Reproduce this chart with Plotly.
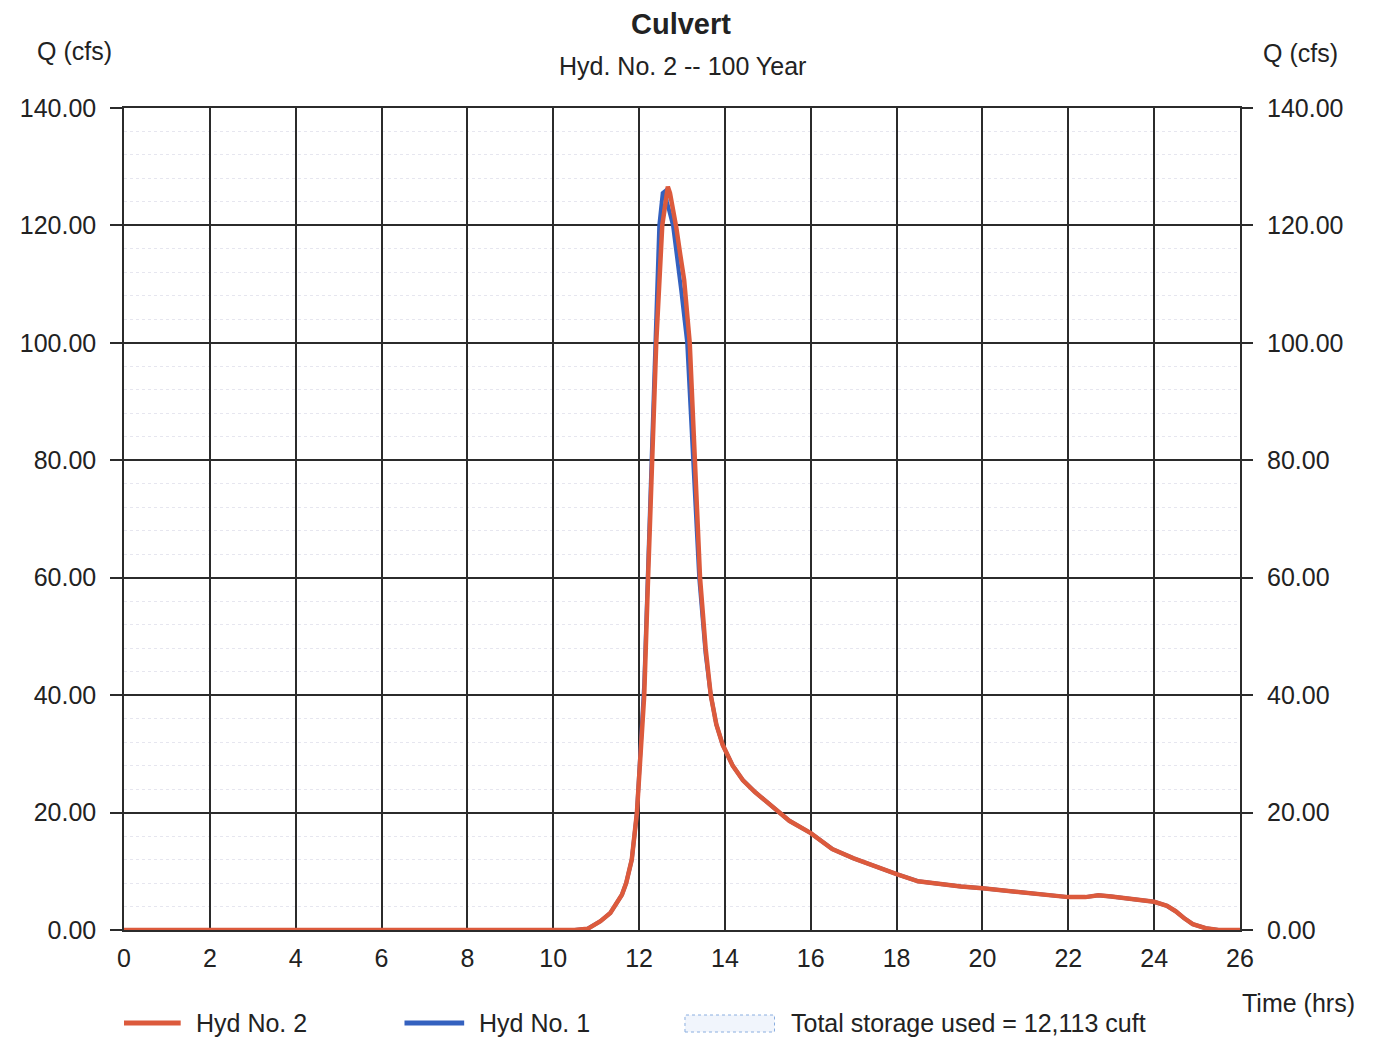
import plotly.graph_objects as go

# ---- data ----
t_hyd2 = [0, 10.5, 10.8, 10.95, 11.1, 11.33, 11.48, 11.6, 11.7, 11.83, 11.95, 12.03, 12.12,
          12.21, 12.31, 12.40, 12.54, 12.62, 12.67, 12.72, 12.80, 12.87, 12.96, 13.05, 13.18,
          13.30, 13.42, 13.55, 13.67, 13.8, 13.95, 14.18, 14.42, 14.7, 15.0, 15.5, 16.0, 16.5,
          17.0, 17.5, 18.0, 18.5, 19.0, 19.5, 20.0, 20.5, 21.0, 21.5, 22.0, 22.4, 22.7, 23.0,
          23.5, 24.0, 24.3, 24.5, 24.7, 24.9, 25.2, 25.5, 26.0]
q_hyd2 = [0, 0, 0.2, 0.8, 1.5, 2.9, 4.6, 6.0, 8.0, 12.0, 20.0, 30.0, 40.0,
          60.0, 80.0, 100.0, 120.0, 125.0, 126.6, 125.5, 122.5, 119.5, 115.0, 110.7, 100.0,
          80.0, 60.0, 48.0, 40.0, 35.0, 31.5, 28.0, 25.5, 23.5, 21.6, 18.6, 16.5, 13.8,
          12.2, 10.8, 9.5, 8.3, 7.8, 7.4, 7.1, 6.7, 6.3, 5.9, 5.6, 5.6, 5.9, 5.7,
          5.3, 4.8, 4.1, 3.2, 2.0, 1.0, 0.3, 0.0, 0.0]

t_hyd1 = [0, 10.5, 10.8, 10.95, 11.1, 11.33, 11.48, 11.6, 11.7, 11.83, 11.95, 12.03, 12.12,
          12.21, 12.30, 12.38, 12.47, 12.55, 12.60, 12.65, 12.79, 12.98, 13.12, 13.26, 13.40,
          13.55, 13.67, 13.8, 13.95, 14.18, 14.42, 14.7, 15.0, 15.5, 16.0, 16.5,
          17.0, 17.5, 18.0, 18.5, 19.0, 19.5, 20.0, 20.5, 21.0, 21.5, 22.0, 22.4, 22.7, 23.0,
          23.5, 24.0, 24.3, 24.5, 24.7, 24.9, 25.2, 25.5, 26.0]
q_hyd1 = [0, 0, 0.2, 0.8, 1.5, 2.9, 4.6, 6.0, 8.0, 12.0, 20.0, 31.0, 42.0,
          62.0, 82.0, 101.0, 120.0, 125.5, 125.8, 124.0, 120.0, 109.0, 100.0, 80.0, 60.0,
          47.0, 40.0, 35.0, 31.5, 28.0, 25.5, 23.5, 21.6, 18.6, 16.5, 13.8,
          12.2, 10.8, 9.5, 8.3, 7.8, 7.4, 7.1, 6.7, 6.3, 5.9, 5.6, 5.6, 5.9, 5.7,
          5.3, 4.8, 4.1, 3.2, 2.0, 1.0, 0.3, 0.0, 0.0]

x_ticks = list(range(0, 27, 2))
y_ticks = [0, 20, 40, 60, 80, 100, 120, 140]

title_text = "Culvert"
subtitle_text = "Hyd. No. 2 -- 100 Year"
legend_names = ["Hyd No. 2", "Hyd No. 1", "Total storage used = 12,113 cuft"]

RED = "#dc5a3c"
BLUE = "#3461bf"
TXT = "#222222"
GRID = "#2b2b2b"
FONT = "Liberation Sans, Arial, sans-serif"
FS = 25

fig = go.Figure()
fig.add_trace(go.Scatter(x=t_hyd1, y=q_hyd1, mode="lines", name=legend_names[1],
                         line=dict(color=BLUE, width=4), showlegend=False))
fig.add_trace(go.Scatter(x=t_hyd2, y=q_hyd2, mode="lines", name=legend_names[0],
                         line=dict(color=RED, width=4.5), showlegend=False))
# invisible trace to activate right axis
fig.add_trace(go.Scatter(x=t_hyd2, y=q_hyd2, mode="lines", yaxis="y2",
                         line=dict(color="rgba(0,0,0,0)", width=0), hoverinfo="skip",
                         showlegend=False))

OFF = 8  # page body margin
SW, SH = 1373, 1038  # screen size
W, H = SW - 2 * OFF, SH - OFF
# plot area in screen pixels
PL, PR, PT, PB = 118, 1240, 108, 930
L, T = PL - OFF, PT - OFF
R = W - (PR - OFF)
B = H - (PB - OFF)
pw, ph = PR - PL, PB - PT


def px(xp):
    return (xp - PL) / pw


def py(yp):
    return (PB - yp) / ph


yax_common = dict(range=[0, 140], tickvals=y_ticks, tickformat=".2f",
                  ticks="outside", ticklen=12, tickcolor=GRID, tickwidth=1.5,
                  tickfont=dict(family=FONT, size=FS, color=TXT),
                  ticklabelstandoff=9, fixedrange=True)

fig.update_layout(
    width=W, height=H,
    margin=dict(l=L, r=R, t=T, b=B),
    paper_bgcolor="white", plot_bgcolor="white",
    font=dict(family=FONT, color=TXT),
    xaxis=dict(range=[0, 26], tickvals=x_ticks, showgrid=True, gridcolor=GRID, gridwidth=1.5,
               showline=True, mirror=True, linecolor=GRID, linewidth=1.5, zeroline=False,
               ticks="", tickfont=dict(family=FONT, size=FS, color=TXT),
               ticklabelstandoff=5),
    yaxis=dict(**yax_common, showgrid=True, gridcolor=GRID, gridwidth=1.5,
               showline=True, mirror=True, linecolor=GRID, linewidth=1.5, zeroline=False,
               minor=dict(dtick=4, showgrid=True, gridcolor="#e6e6ef", griddash="dot",
                          gridwidth=1)),
    yaxis2=dict(**yax_common, overlaying="y", side="right", showgrid=False,
                showline=False, zeroline=False),
    showlegend=False,
)

ann = [
    dict(text="<b>" + title_text + "</b>", x=px(678), y=py(24), size=29),
    dict(text=subtitle_text, x=px(679), y=py(66), size=FS),
    dict(text="Q (cfs)", x=px(68), y=py(51), size=FS),
    dict(text="Q (cfs)", x=px(1301), y=py(53), size=FS),
    dict(text="Time (hrs)", x=px(1299), y=py(1003), size=FS),
]
for a in ann:
    fig.add_annotation(text=a["text"], x=a["x"], y=a["y"], xref="paper", yref="paper",
                       showarrow=False, xanchor="center", yanchor="middle",
                       font=dict(family=FONT, size=a["size"], color=TXT))

# manual legend
leg_y = 1023
fig.add_shape(type="line", xref="paper", yref="paper", x0=px(118), x1=px(175),
              y0=py(leg_y), y1=py(leg_y), line=dict(color=RED, width=5))
fig.add_shape(type="line", xref="paper", yref="paper", x0=px(400), x1=px(460),
              y0=py(leg_y), y1=py(leg_y), line=dict(color=BLUE, width=5))
fig.add_shape(type="rect", xref="paper", yref="paper", x0=px(682), x1=px(772),
              y0=py(1032), y1=py(1015), line=dict(color="#8aaee0", width=1, dash="dot"),
              fillcolor="#f1f5fc")
for xp, name in [(188, legend_names[0]), (473, legend_names[1]), (787, legend_names[2])]:
    fig.add_annotation(text=name, x=px(xp), y=py(leg_y), xref="paper", yref="paper",
                       showarrow=False, xanchor="left", yanchor="middle",
                       font=dict(family=FONT, size=FS, color=TXT))

fig.write_html("out.html")
